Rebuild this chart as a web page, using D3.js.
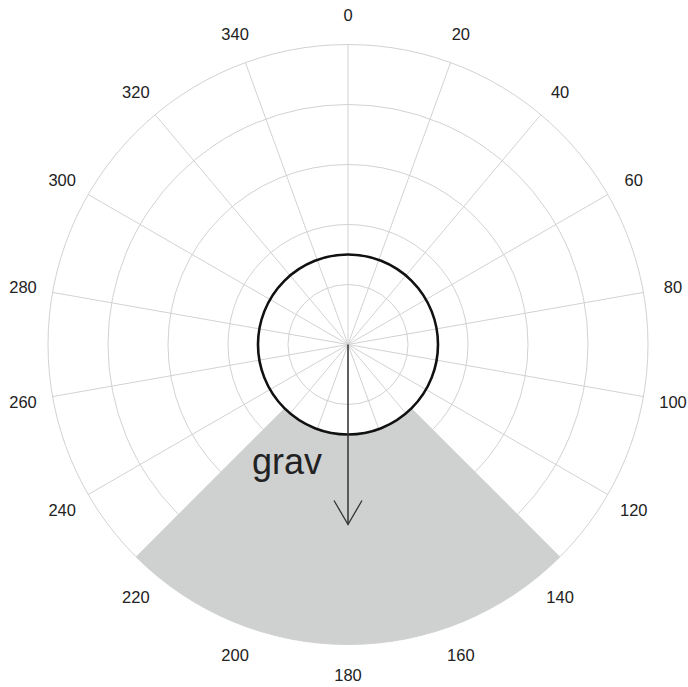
<!DOCTYPE html>
<html>
<head>
<meta charset="utf-8">
<script src="https://cdn.jsdelivr.net/npm/d3@7"></script>
<style>
  body { margin: 0; background: #fff; }
  svg { display: block; }
</style>
</head>
<body>
<svg id="chart"></svg>
<script>
const angleTicks = d3.range(0, 360, 20)        // degrees, clockwise from north
const ringValues = [1, 2, 3, 4, 5]
const bodyRadius = 1.5
const sectorAngles = [135, 225]
const sectorRadii = [1.5, 5]
const gravVector = { angle: 180, length: 3 }
const gravLabel = "grav"

const width = 688
const height = 687
const cx = 348, cy = 344.5

const r = d3.scaleLinear().domain([0, 5]).range([0, 300])
const a = d3.scaleLinear().domain([0, 360]).range([0, 2 * Math.PI])

const px = (deg, v) => cx + r(v) * Math.sin(a(deg))
const py = (deg, v) => cy - r(v) * Math.cos(a(deg))

const svg = d3.select('#chart')
  .attr('width', width)
  .attr('height', height)

// grid rings
svg.append('g')
  .selectAll('circle')
  .data(ringValues)
  .join('circle')
    .attr('cx', cx)
    .attr('cy', cy)
    .attr('r', d => r(d))
    .attr('fill', 'none')
    .attr('stroke', '#d2d2d2')
    .attr('stroke-width', 1)

// spokes
svg.append('g')
  .selectAll('line')
  .data(angleTicks)
  .join('line')
    .attr('x1', cx)
    .attr('y1', cy)
    .attr('x2', d => px(d, 5))
    .attr('y2', d => py(d, 5))
    .attr('stroke', '#d2d2d2')
    .attr('stroke-width', 1)

// shaded sector, drawn over the grid
svg.append('path')
  .attr('transform', `translate(${cx},${cy})`)
  .attr('d', d3.arc()
    .innerRadius(r(sectorRadii[0]))
    .outerRadius(r(sectorRadii[1]))
    .startAngle(a(sectorAngles[0]))
    .endAngle(a(sectorAngles[1]))())
  .attr('fill', '#cfd0d0')

// angle labels
svg.append('g')
  .selectAll('text')
  .data(angleTicks)
  .join('text')
    .attr('x', d => px(d, 5.5))
    .attr('y', d => py(d, 5.5))
    .attr('text-anchor', 'middle')
    .attr('dominant-baseline', 'central')
    .attr('font-family', 'Liberation Sans, Arial, sans-serif')
    .attr('font-size', 16.5)
    .attr('fill', '#222')
    .text(d => d)

// body circle
svg.append('circle')
  .attr('cx', cx)
  .attr('cy', cy)
  .attr('r', r(bodyRadius))
  .attr('fill', 'none')
  .attr('stroke', '#111')
  .attr('stroke-width', 2.6)

// gravity arrow
const tipX = px(gravVector.angle, gravVector.length)
const tipY = py(gravVector.angle, gravVector.length)
svg.append('line')
  .attr('x1', cx).attr('y1', cy)
  .attr('x2', tipX).attr('y2', tipY)
  .attr('stroke', '#333')
  .attr('stroke-width', 1.5)

svg.append('path')
  .attr('d', `M${tipX - 14},${tipY - 24} L${tipX},${tipY} L${tipX + 14},${tipY - 24}`)
  .attr('fill', 'none')
  .attr('stroke', '#333')
  .attr('stroke-width', 1.3)

svg.append('text')
  .attr('x', 252)
  .attr('y', 474)
  .attr('font-family', 'Liberation Sans, Arial, sans-serif')
  .attr('font-size', 36)
  .attr('fill', '#222')
  .text(gravLabel)
</script>
</body>
</html>
